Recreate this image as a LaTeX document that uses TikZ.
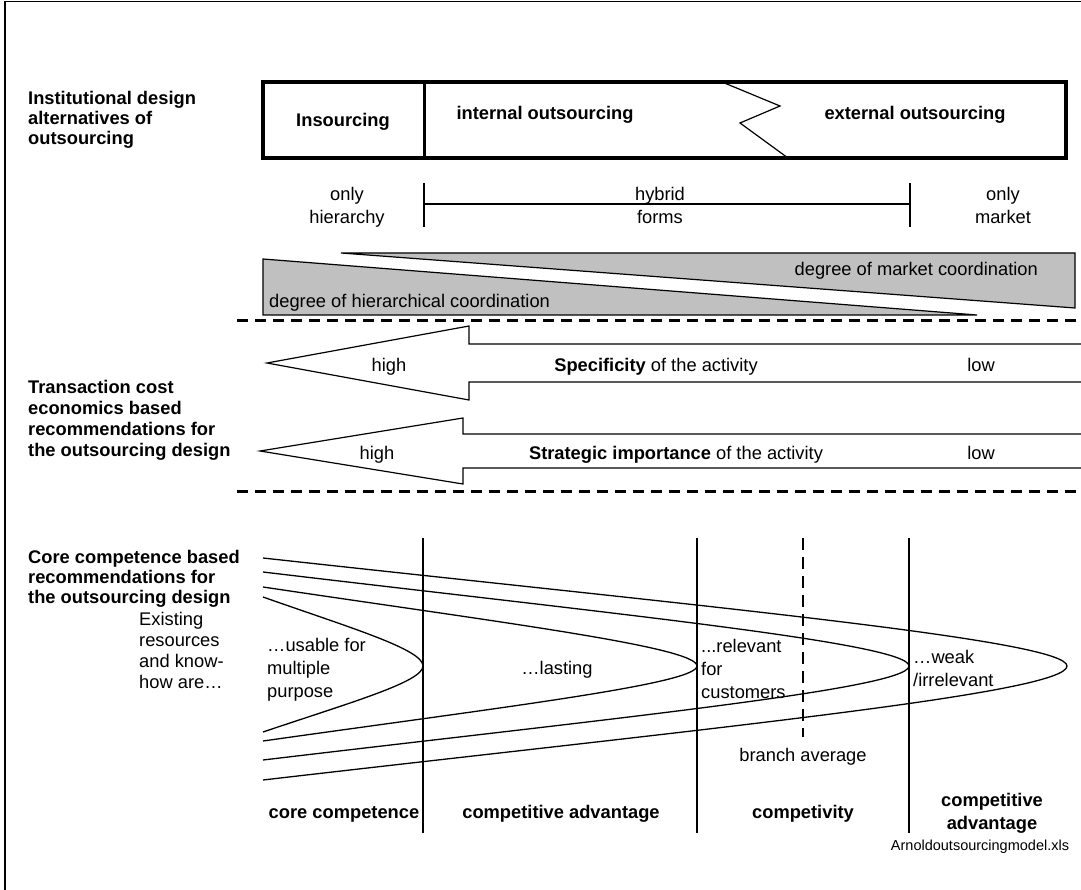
\documentclass[tikz,border=0pt]{standalone}
\usepackage{fontspec}
\setmainfont{Liberation Sans}
\definecolor{triGray}{HTML}{C0C0C0}
\begin{document}
\begin{tikzpicture}[x=1pt,y=-1pt,
  txt/.style={inner sep=0pt, font=\fontsize{18.3}{23}\selectfont},
  txtex/.style={inner sep=0pt, font=\fontsize{18.3}{21}\selectfont},
  bold/.style={inner sep=0pt, font=\fontsize{18.3}{20}\selectfont\bfseries},
  boldb/.style={inner sep=0pt, font=\fontsize{18.3}{23}\selectfont\bfseries},
  small/.style={inner sep=0pt, font=\fontsize{14.5}{16}\selectfont},
  thinline/.style={line width=1.2pt},
  boxline/.style={line width=3.5pt},
  sepline/.style={line width=3pt, dash pattern=on 11pt off 7pt},
  vline/.style={line width=2pt},
  vdash/.style={line width=1.5pt, dash pattern=on 12pt off 7pt},
  tri/.style={thinline, fill=triGray},
  curve/.style={line width=1.3pt}]
\useasboundingbox (0,0) rectangle (1081,890);

% frame
\draw[line width=1.5pt] (5,890) -- (5,1.5) -- (1081,1.5);

% left labels
\node[bold, anchor=north west, align=left] (lab1) at (28,91) {Institutional design\\alternatives of\\outsourcing};
\node[bold, anchor=north west, align=left, font=\fontsize{18.3}{21}\selectfont\bfseries] (lab2) at (28,380) {Transaction cost\\economics based\\recommendations for\\the outsourcing design};
\node[bold, anchor=north west, align=left] (lab3) at (28,550) {Core competence based\\recommendations for\\the outsourcing design};
\node[txtex, anchor=north west, align=left] (exist) at (139,612) {Existing\\resources\\and know-\\how are…};

% top box
\draw[boxline] (263,82) rectangle (1066,158);
\draw[line width=3pt] (424,82) -- (424,158);
\draw[thinline] (722,82) -- (780,106) -- (740,123) -- (788,158);
\node[bold, anchor=base] (ins) at (343,127) {Insourcing};
\node[bold, anchor=base] (intout) at (545,120) {internal outsourcing};
\node[bold, anchor=base] (extout) at (915,120) {external outsourcing};

% scale
\coordinate (sl) at (424,204);
\coordinate (sr) at (910,204);
\draw[thinline] (424,183) -- (424,227);
\draw[thinline] (910,183) -- (910,227);
\draw[thinline] (sl) -- (sr);
\node[txt, anchor=north, align=center] (onlyh) at (347,187) {only\\hierarchy};
\node[txt, anchor=north, align=center] (hybrid) at (660,187) {hybrid\\forms};
\node[txt, anchor=north, align=center] (onlym) at (1003,187) {only\\market};

% triangles
\draw[tri] (341,253) -- (1075,253) -- (1075,308) -- cycle;
\draw[tri] (263,259) -- (977,315) -- (263,315) -- cycle;
\node[txt, anchor=base east] (mkt) at (1038,276) {degree of market coordination};
\node[txt, anchor=base west] (hier) at (269,308) {degree of hierarchical coordination};

% separators
\draw[sepline] (237,321) -- (1081,321);
\draw[sepline] (237,491) -- (1081,491);

% arrows
\draw[thinline] (1081,344) -- (469,344) -- (469,326) -- (267,363) -- (469,400) -- (469,382) -- (1081,382);
\draw[thinline] (1081,434) -- (463,434) -- (463,418) -- (260,451) -- (463,484) -- (463,468) -- (1081,468);
\node[txt, anchor=base] (high1) at (389,371) {high};
\node[txt, anchor=base] (spec) at (656,371) {\textbf{Specificity} of the activity};
\node[txt, anchor=base] (low1) at (981,371) {low};
\node[txt, anchor=base] (high2) at (377,459) {high};
\node[txt, anchor=base] (strat) at (676,459) {\textbf{Strategic importance} of the activity};
\node[txt, anchor=base] (low2) at (981,459) {low};

% vertical lines
\draw[vline] (423,538) -- (423,833);
\draw[vline] (697,538) -- (697,833);
\draw[vline] (909,538) -- (909,833);
\draw[vdash] (803,538) -- (803,737);

% curves
\draw[curve] (263,597) .. controls (351,628.05) and (423,649.4) .. (423,666)
  .. controls (423,681.8) and (351,702.3) .. (263,732);
\draw[curve] (263,587) .. controls (501.7,622.6) and (697,647) .. (697,666)
  .. controls (697,684) and (501.7,707.25) .. (263,741);
\draw[curve] (263,572) .. controls (618.3,614.3) and (909,643.4) .. (909,666)
  .. controls (909,688.6) and (618.3,717.7) .. (263,760);
\draw[curve] (263,558) .. controls (705.2,606.6) and (1067,640.1) .. (1067,666)
  .. controls (1067,693.4) and (705.2,728.7) .. (263,780);

% bottom texts
\node[txt, anchor=north west, align=left] (usable) at (267,638) {…usable for\\multiple\\purpose};
\node[txt, anchor=base] (lasting) at (557,674) {…lasting};
\node[txt, anchor=north west, align=left] (relevant) at (701,639) {...relevant\\for\\customers};
\node[txt, anchor=north west, align=left] (weak) at (913,650) {…weak\\/irrelevant};
\node[txt, anchor=base] (branch) at (803,761) {branch average};
\node[bold, anchor=base] (cc) at (344,818) {core competence};
\node[bold, anchor=base] (ca) at (561,818) {competitive advantage};
\node[bold, anchor=base] (cv) at (803,818) {competivity};
\node[boldb, anchor=north, align=center] (ca2) at (992,793) {competitive\\advantage};
\node[small, anchor=base] (file) at (980,850) {Arnoldoutsourcingmodel.xls};
\end{tikzpicture}
\end{document}
